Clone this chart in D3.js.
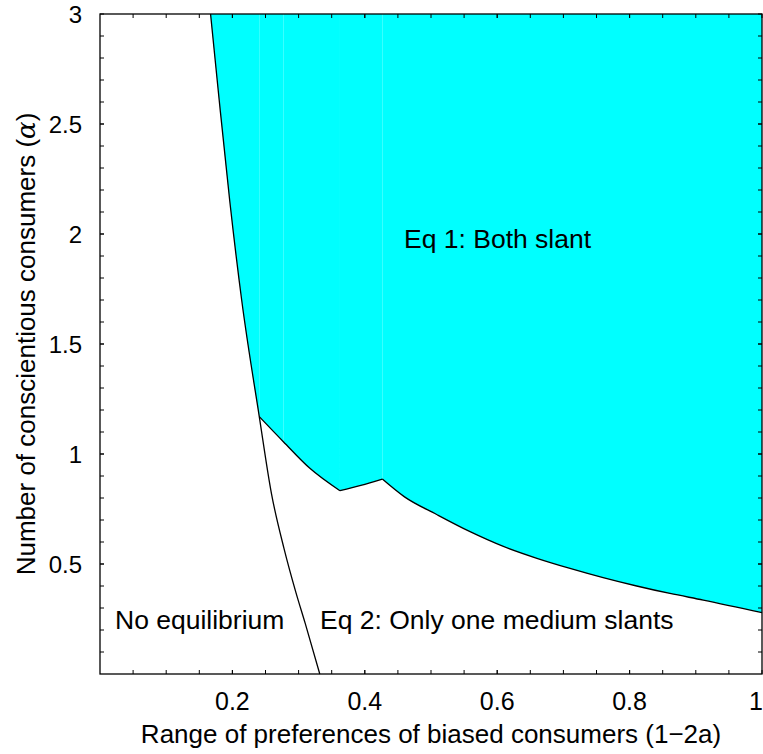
<!DOCTYPE html>
<html>
<head>
<meta charset="utf-8">
<script src="https://cdn.jsdelivr.net/npm/d3@7"></script>
<style>
  body { margin: 0; background: #fff; }
  text { font-family: "Liberation Sans", Arial, sans-serif; fill: #000; }
</style>
</head>
<body>
<div id="chart"></div>
<script>
// boundary between "No equilibrium" and the other regions
const leftX = [0.167, 0.180, 0.196, 0.214, 0.2406, 0.259, 0.278, 0.296, 0.310, 0.332];
const leftA = [3.00, 2.61, 2.15, 1.70, 1.17, 0.82, 0.57, 0.37, 0.23, 0.00];

// lower edge of the "Eq 1" region, split where it has corners
const segBX = [0.2406, 0.277, 0.317, 0.3625];
const segBA = [1.17, 1.056, 0.935, 0.833];
const segCX = [0.3625, 0.394, 0.4265];
const segCA = [0.833, 0.857, 0.886];
const segDX = [0.4265, 0.46, 0.5086, 0.559, 0.6093, 0.66, 0.710, 0.76, 0.8107, 0.861, 0.9113, 1.0];
const segDA = [0.886, 0.805, 0.725, 0.647, 0.58, 0.526, 0.48, 0.438, 0.40, 0.366, 0.336, 0.279];

const xTicks = [0.2, 0.4, 0.6, 0.8, 1];
const yTicks = [0.5, 1, 1.5, 2, 2.5, 3];
const xMinor = d3.range(0.05, 1, 0.05);
const yMinor = d3.range(0.1, 3, 0.1);

const width = 763;
const height = 754;
const margin = {top: 14, right: 1, bottom: 80, left: 100};

const svg = d3.select("#chart")
  .append("svg")
  .attr("width", width)
  .attr("height", height);

const x = d3.scaleLinear()
  .domain([0, 1])
  .range([margin.left, width - margin.right]);

const y = d3.scaleLinear()
  .domain([0, 3])
  .range([height - margin.bottom, margin.top]);

const pts = (xs, as) => xs.map((v, i) => [v, as[i]]);

const leftPts = pts(leftX, leftA);
const topPart = leftPts.filter(d => d[1] >= 1.17);

// cyan region drawn in patches (faint seams like the original)
const patches = [
  topPart,
  pts(segBX, segBA).slice(0, 2),
  pts(segBX, segBA).slice(1),
  pts(segCX, segCA),
  pts(segDX, segDA)
];

const area = d3.area()
  .x(d => x(d[0]))
  .y0(d => y(d[1]))
  .y1(y(3))
  .curve(d3.curveMonotoneX);

svg.append("g")
  .selectAll("path")
  .data(patches)
  .join("path")
  .attr("d", area)
  .attr("fill", "#00ffff");

const line = d3.line()
  .x(d => x(d[0]))
  .y(d => y(d[1]))
  .curve(d3.curveMonotoneX);

const lines = [leftPts, pts(segBX, segBA), pts(segCX, segCA), pts(segDX, segDA)];

svg.append("g")
  .selectAll("path")
  .data(lines)
  .join("path")
  .attr("d", line)
  .attr("fill", "none")
  .attr("stroke", "#000")
  .attr("stroke-width", 1.3);

// axes with inward ticks on all four sides
const tl = 4;
const axisG = svg.append("g").attr("stroke", "#000").attr("stroke-width", 1);

axisG.selectAll(".xt")
  .data(xMinor.concat(xTicks))
  .join("line")
  .attr("x1", d => x(d)).attr("x2", d => x(d))
  .attr("y1", y(0)).attr("y2", y(0) - tl);
axisG.selectAll(".xtt")
  .data(xMinor.concat(xTicks))
  .join("line")
  .attr("x1", d => x(d)).attr("x2", d => x(d))
  .attr("y1", y(3)).attr("y2", y(3) + tl);
axisG.selectAll(".yt")
  .data(yMinor.concat(yTicks))
  .join("line")
  .attr("y1", d => y(d)).attr("y2", d => y(d))
  .attr("x1", x(0)).attr("x2", x(0) + tl);
axisG.selectAll(".ytr")
  .data(yMinor.concat(yTicks))
  .join("line")
  .attr("y1", d => y(d)).attr("y2", d => y(d))
  .attr("x1", x(1)).attr("x2", x(1) - tl);

svg.append("rect")
  .attr("x", x(0))
  .attr("y", y(3))
  .attr("width", x(1) - x(0))
  .attr("height", y(0) - y(3))
  .attr("fill", "none")
  .attr("stroke", "#000")
  .attr("stroke-width", 1.3);

// tick labels
svg.append("g")
  .selectAll("text")
  .data(xTicks)
  .join("text")
  .attr("x", d => d === 1 ? width : x(d))
  .attr("y", 710)
  .attr("text-anchor", d => d === 1 ? "end" : "middle")
  .style("font-size", "25px")
  .text(d => d3.format("")(d));

svg.append("g")
  .selectAll("text")
  .data(yTicks)
  .join("text")
  .attr("x", 82)
  .attr("y", d => y(d) + 9)
  .attr("text-anchor", "end")
  .style("font-size", "24px")
  .text(d => d3.format("")(d));

// axis labels
svg.append("text")
  .attr("x", x(0.5))
  .attr("y", 743)
  .attr("text-anchor", "middle")
  .style("font-size", "26px")
  .text("Range of preferences of biased consumers (1\u22122a)");

const yl = svg.append("text")
  .attr("transform", "rotate(-90)")
  .attr("x", -(y(0) + y(3)) / 2)
  .attr("y", 35)
  .attr("text-anchor", "middle")
  .style("font-size", "26px");
yl.append("tspan").text("Number of conscientious consumers (");
yl.append("tspan").style("font-style", "italic").style("font-family", "'DejaVu Serif', serif").text("\u03b1");
yl.append("tspan").text(")");

// region labels
svg.append("text")
  .attr("x", 404).attr("y", 248)
  .style("font-size", "26.5px")
  .text("Eq 1: Both slant");

svg.append("text")
  .attr("x", 115).attr("y", 629)
  .style("font-size", "26.5px")
  .text("No equilibrium");

svg.append("text")
  .attr("x", 320).attr("y", 629)
  .style("font-size", "26.5px")
  .text("Eq 2: Only one medium slants");
</script>
</body>
</html>
